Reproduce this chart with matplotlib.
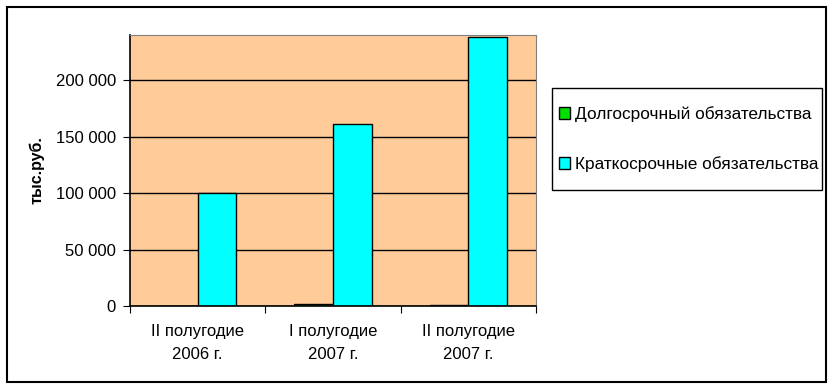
import matplotlib.pyplot as plt
from matplotlib.patches import Rectangle
import numpy as np

plt.rcParams['font.family'] = ['Liberation Sans', 'DejaVu Sans']

periodos = ["II полугодие\n2006 г.", "I полугодие\n2007 г.", "II полугодие\n2007 г."]
dolgosrochnye = [0, 1500, 1200]
kratkosrochnye = [100000, 161000, 238000]
series_names = ["Долгосрочный обязательства", "Краткосрочные обязательства"]
yticks = [0, 50000, 100000, 150000, 200000]

fig = plt.figure(figsize=(8.34, 3.9), dpi=100)
ax = fig.add_axes([130 / 834, 1 - 306 / 390, 406 / 834, 271 / 390])

x = np.arange(len(periodos))
w = 0.2857
ax.bar(x - w / 2, dolgosrochnye, w, color='#00E000', edgecolor='black', linewidth=1,
       label=series_names[0])
ax.bar(x + w / 2, kratkosrochnye, w, color='#00FFFF', edgecolor='black', linewidth=1,
       label=series_names[1])

ax.set_facecolor('#FFCC99')
ax.set_xlim(-0.5, 2.5)
ax.set_ylim(0, 240000)
ax.set_yticks(yticks)
ax.set_yticklabels([f"{v:,}".replace(",", " ") for v in yticks], fontsize=12)
ax.yaxis.grid(True, color='black', linewidth=1)
ax.set_axisbelow(True)

ax.set_xticks([-0.5, 0.5, 1.5, 2.5], minor=False)
ax.set_xticklabels([])
ax.set_xticks(x, minor=True)
ax.set_xticklabels(periodos, minor=True, fontsize=12, linespacing=1.65)
ax.tick_params(axis='x', which='minor', length=0, pad=13)
ax.tick_params(axis='x', which='major', length=5, direction='out')
ax.tick_params(axis='y', length=5, direction='out', pad=5)

for s in ['left', 'bottom']:
    ax.spines[s].set_color('black')
    ax.spines[s].set_linewidth(1.2)
for s in ['top', 'right']:
    ax.spines[s].set_color('#808080')

ax.set_ylabel("тыс.руб.", fontsize=11.5, fontweight='bold')
ax.yaxis.set_label_coords(-0.21, 0.5)

# легенда без рамки, рамку рисуем отдельно
leg = fig.legend(loc='upper left', bbox_to_anchor=(559 / 834, 1 - 106 / 390), fontsize=12.4,
                 frameon=False, handlelength=0.65, handleheight=0.65, handletextpad=0.3,
                 labelspacing=2.0, borderpad=0, borderaxespad=0)
fig.patches.append(Rectangle((552 / 834, 1 - 190 / 390), 270 / 834, 102 / 390,
                             transform=fig.transFigure, fill=False, edgecolor='black',
                             linewidth=1))

fig.patches.append(Rectangle((7 / 834, 1 - 382 / 390), 819 / 834, 375 / 390,
                             transform=fig.transFigure, fill=False, edgecolor='black',
                             linewidth=1.5))

fig.savefig("out.png", dpi=100)
